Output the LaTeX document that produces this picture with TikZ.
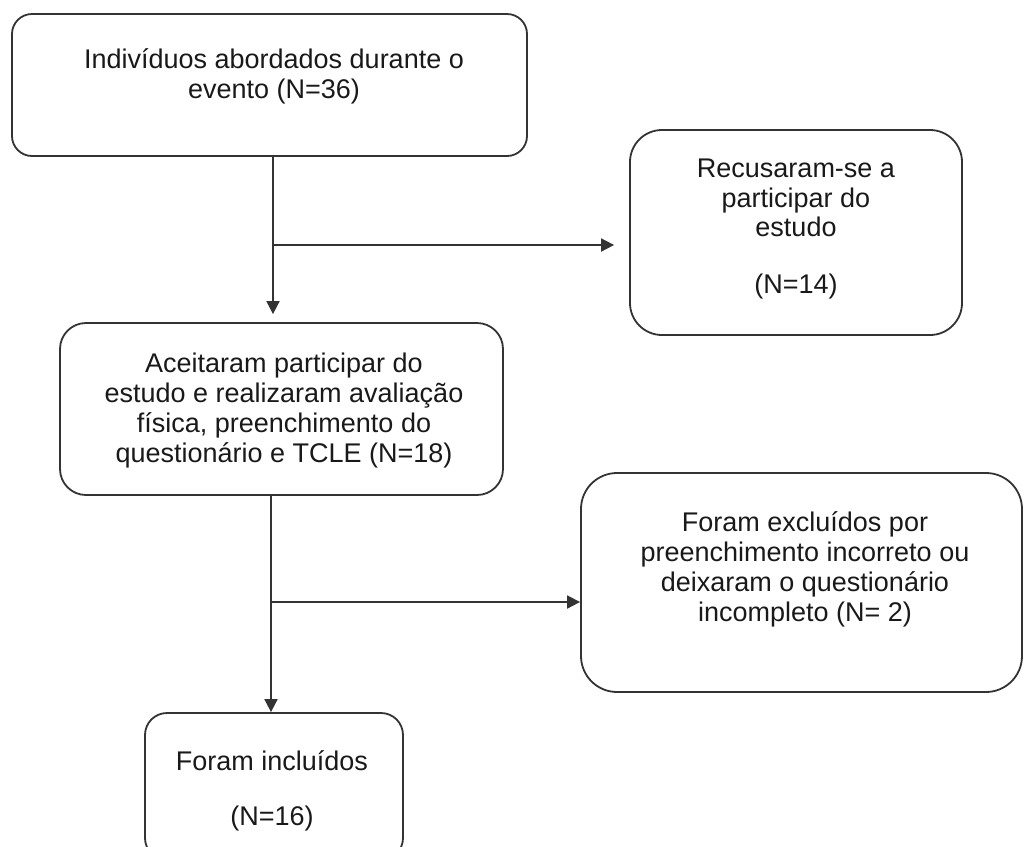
\documentclass[tikz,border=0pt]{standalone}
\usepackage{fontspec}
\setmainfont{Liberation Sans}
\usetikzlibrary{arrows.meta, positioning, calc}

\begin{document}
\begin{tikzpicture}[
    x=0.5pt, y=-0.5pt,
    box/.style={rectangle, draw=black!80, line width=0.9pt, inner sep=0pt},
    txt/.style={align=center, inner sep=0pt, text=black!90, font=\fontsize{13.5}{15}\selectfont},
    arr/.style={draw=black!80, line width=0.9pt, -{Triangle[length=6.5pt, width=6.5pt]}}
]

\clip (0,0) rectangle (1024,847);

% Boxes
\node (abord) [box, rounded corners=10pt, minimum width=257.5pt, minimum height=71pt] at (269.5,85) {};
\node (recus) [box, rounded corners=16pt, minimum width=166pt, minimum height=102.5pt] at (796,232.5) {};
\node (aceit) [box, rounded corners=13pt, minimum width=221.5pt, minimum height=86pt] at (281.5,409) {};
\node (exclu) [box, rounded corners=18pt, minimum width=220.5pt, minimum height=109.5pt] at (801.5,582.5) {};
\node (inclu) [box, rounded corners=11pt, minimum width=129pt, minimum height=73.5pt] at (274,786.5) {};

% Texts
\node (abordtxt) [txt] at (274,76) {Indivíduos abordados durante o\\evento (N=36)};
\node (recustxt) [txt] at (796,229) {Recusaram-se a\\participar do\\estudo\\[13.5pt](N=14)};
\node (aceittxt) [txt] at (284,411) {Aceitaram participar do\\estudo e realizaram avaliação\\física, preenchimento do\\questionário e TCLE (N=18)};
\node (exclutxt) [txt] at (805,569) {Foram excluídos por\\preenchimento incorreto ou\\deixaram o questionário\\incompleto (N= 2)};
\node (inclutxt) [txt] at (272,791) {Foram incluídos\\[12.5pt](N=16)};

% Split points
\coordinate (split1) at (273,245);
\coordinate (split2) at (271,602);

\draw[arr, shorten >=4pt] (abord.south -| split1) -- (aceit.north -| split1);
\draw[arr, shorten >=7.5pt] (split1) -- (split1 -| recus.west);

\draw[arr] (aceit.south -| split2) -- (inclu.north -| split2);
\draw[arr] (split2) -- (split2 -| exclu.west);

\end{tikzpicture}
\end{document}
